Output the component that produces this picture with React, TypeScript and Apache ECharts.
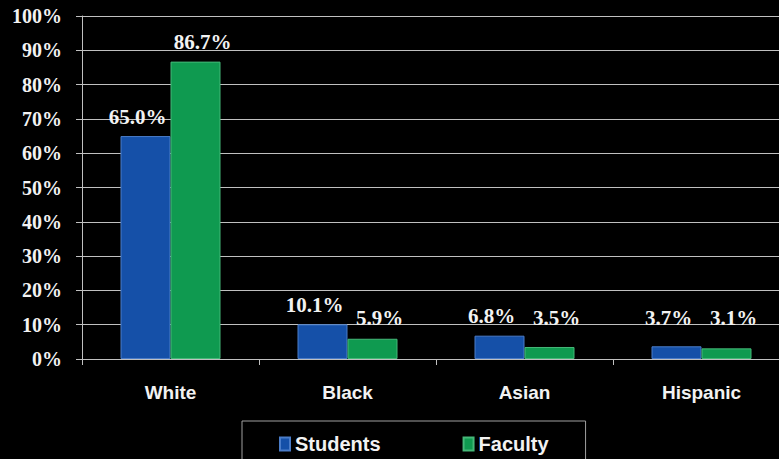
import React, { useEffect, useRef } from "react";
import * as echarts from "echarts";

const categories = ["White", "Black", "Asian", "Hispanic"];
const students = [65.0, 10.1, 6.8, 3.7];
const faculty = [86.7, 5.9, 3.5, 3.1];
const seriesNames = ["Students", "Faculty"];

export default function App() {
  const ref = useRef<HTMLDivElement>(null);
  useEffect(() => {
    document.body.style.margin = "0";
    document.body.style.background = "#000";
    const chart = echarts.init(ref.current!, null, { renderer: "svg" });
    const makeLabel = (dx: number) => ({
      show: true,
      position: "top" as const,
      distance: 9,
      offset: [dx, 0],
      color: "#f2f2f2",
      fontFamily: "Liberation Serif",
      fontWeight: "bold" as const,
      fontSize: 21,
      formatter: (p: any) => Number(p.value).toFixed(1) + "%",
    });
    // Small bars keep their labels at a minimum height above the axis, as in the original slide
    const toItems = (vals: number[]) =>
      vals.map((v) => ({
        value: v,
        label: { distance: 9 + Math.max(0, (6.3 - v) * 3.43) },
      }));
    chart.setOption({
      animation: false,
      backgroundColor: "#000",
      grid: {
        left: 82,
        top: 16,
        width: 708,
        height: 343,
        containLabel: false,
        outerBoundsMode: "none",
      },
      legend: {
        left: 242,
        top: 421,
        padding: [13, 37, 30, 37],
        borderColor: "#a0a0a0",
        borderWidth: 1,
        itemWidth: 10,
        itemHeight: 13,
        itemGap: 82,
        icon: "rect",
        textStyle: {
          color: "#f2f2f2",
          fontFamily: "Liberation Sans",
          fontWeight: "bold",
          fontSize: 20,
        },
        data: seriesNames,
      },
      xAxis: {
        type: "category",
        data: categories,
        axisLine: { lineStyle: { color: "#c0c0c0", width: 1 } },
        axisTick: { show: true, length: 6, lineStyle: { color: "#c0c0c0" } },
        axisLabel: {
          color: "#f2f2f2",
          fontFamily: "Liberation Sans",
          fontWeight: "bold",
          fontSize: 19,
          margin: 24,
        },
      },
      yAxis: {
        type: "value",
        min: 0,
        max: 100,
        interval: 10,
        axisLine: { show: true, lineStyle: { color: "#c0c0c0", width: 1 } },
        axisTick: { show: true, length: 6, lineStyle: { color: "#c0c0c0" } },
        splitLine: { show: true, lineStyle: { color: "#c0c0c0", width: 1 } },
        axisLabel: {
          color: "#f2f2f2",
          fontFamily: "Liberation Serif",
          fontWeight: "bold",
          fontSize: 20,
          margin: 20,
          formatter: "{value}%",
        },
      },
      series: [
        {
          name: seriesNames[0],
          type: "bar",
          data: toItems(students),
          barWidth: 50,
          barGap: "0%",
          itemStyle: { color: "#1550a8", borderColor: "#4a7cc8", borderWidth: 1 },
          label: makeLabel(-8),
        },
        {
          name: seriesNames[1],
          type: "bar",
          data: toItems(faculty),
          barWidth: 50,
          barGap: "0%",
          itemStyle: { color: "#0f9a50", borderColor: "#45b878", borderWidth: 1 },
          label: makeLabel(7),
        },
      ],
    });
    return () => chart.dispose();
  }, []);
  return <div ref={ref} style={{ width: 779, height: 459 }} />;
}
